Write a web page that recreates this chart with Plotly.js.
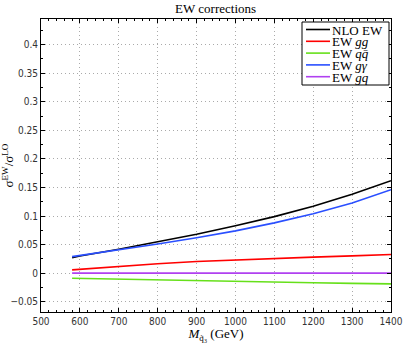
<!DOCTYPE html>
<html>
<head>
<meta charset="utf-8">
<script src="https://cdn.plot.ly/plotly-3.0.1.min.js"></script>
<style>
  html, body { margin: 0; padding: 0; background: #fff; }
  #chart { width: 403px; height: 343px; }
</style>
</head>
<body>
<div id="chart"></div>
<script>
// squark mass points (GeV)
const masses = [580, 600, 700, 800, 900, 1000, 1100, 1200, 1300, 1400];

// sigma^EW / sigma^LO per channel
const nloEW = [0.027, 0.030, 0.042, 0.055, 0.068, 0.083, 0.099, 0.117, 0.138, 0.162];
const ewGG  = [0.0058, 0.0068, 0.0122, 0.0165, 0.0203, 0.0232, 0.0256, 0.0280, 0.0302, 0.0326];
const ewQQ  = [-0.0088, -0.0091, -0.0104, -0.0120, -0.0135, -0.0148, -0.0158, -0.0168, -0.0178, -0.0187];
const ewGA  = [0.029, 0.031, 0.040, 0.051, 0.062, 0.074, 0.088, 0.104, 0.123, 0.146];
const ewGQ  = [0, 0, 0, 0, 0, 0, 0, 0, 0, 0];

const seriesNames  = ['NLO EW', 'EW <i>gg</i>', 'EW <i>qq̄</i>', 'EW <i>gγ</i>', 'EW <i>gq</i>'];
const seriesValues = [nloEW, ewGG, ewQQ, ewGA, ewGQ];
const seriesColors = ['#000000', '#ff0000', '#66e01a', '#2a4fff', '#b040f0'];

const serif = '"Liberation Serif", "DejaVu Serif", serif';
const sansNarrow = '"Liberation Sans Narrow", "DejaVu Sans Condensed", "Liberation Sans", sans-serif';

const W = 403, H = 343;
const margin = { l: 41, r: 12, t: 19, b: 31 };

const traces = seriesValues.map((values, i) => ({
    x: masses,
    y: values,
    type: 'scatter',
    mode: 'lines',
    name: seriesNames[i],
    line: { color: seriesColors[i], width: 1.6 },
    showlegend: false
}));

// boxed legend in the top right corner, laid out in pixels then mapped to paper space
const px = x => (x - margin.l) / (W - margin.l - margin.r);
const py = y => (H - margin.b - y) / (H - margin.t - margin.b);
const legendBox = { left: 302, right: 389, top: 22, bottom: 85 };
const legendRow0 = 29.5, legendRowStep = 11.8;

const shapes = [{
    type: 'rect', xref: 'paper', yref: 'paper',
    x0: px(legendBox.left), x1: px(legendBox.right),
    y0: py(legendBox.bottom), y1: py(legendBox.top),
    line: { color: '#000', width: 1 }, fillcolor: '#fff', layer: 'above'
}];
const annotations = [];
seriesNames.forEach((name, i) => {
    const rowY = legendRow0 + i * legendRowStep;
    shapes.push({
        type: 'line', xref: 'paper', yref: 'paper',
        x0: px(306), x1: px(330), y0: py(rowY), y1: py(rowY),
        line: { color: seriesColors[i], width: 1.6 }, layer: 'above'
    });
    annotations.push({
        xref: 'paper', yref: 'paper',
        x: px(331), y: py(rowY + 0.5),
        xanchor: 'left', yanchor: 'middle',
        text: name, showarrow: false, borderpad: 0,
        font: { family: serif, size: 13, color: '#000' }
    });
});

const axisCommon = {
    showline: true,
    linecolor: '#000',
    linewidth: 1,
    mirror: 'allticks',
    ticks: 'inside',
    ticklen: 4,
    tickcolor: '#000',
    showgrid: true,
    gridcolor: '#aaaaaa',
    griddash: '1px,3px',
    gridwidth: 1,
    zeroline: false,
    tickfont: { family: sansNarrow, size: 10, color: '#333' }
};

const layout = {
    width: W,
    height: H,
    margin: Object.assign({ pad: 0 }, margin),
    paper_bgcolor: '#fff',
    plot_bgcolor: '#fff',
    showlegend: false,
    title: {
        text: 'EW corrections',
        font: { family: serif, size: 13, color: '#000' },
        x: 0.535, xanchor: 'center',
        y: 0.975, yanchor: 'middle'
    },
    xaxis: Object.assign({}, axisCommon, {
        range: [500, 1400],
        dtick: 100,
        tick0: 500,
        minor: { ticks: 'inside', ticklen: 2, dtick: 20, tickcolor: '#000', showgrid: false },
        title: {
            text: '<i>M</i><sub>q̃₃</sub> (GeV)',
            font: { family: serif, size: 13, color: '#000' },
            standoff: 2
        }
    }),
    yaxis: Object.assign({}, axisCommon, {
        range: [-0.068, 0.445],
        dtick: 0.05,
        tick0: 0,
        minor: { ticks: 'inside', ticklen: 2, dtick: 0.025, tickcolor: '#000', showgrid: false },
        title: {
            text: 'σ<sup>EW</sup>/σ<sup>LO</sup>',
            font: { family: serif, size: 13, color: '#000' },
            standoff: 8
        }
    }),
    shapes: shapes,
    annotations: annotations
};

Plotly.newPlot('chart', traces, layout, { staticPlot: true, displayModeBar: false });
</script>
</body>
</html>
